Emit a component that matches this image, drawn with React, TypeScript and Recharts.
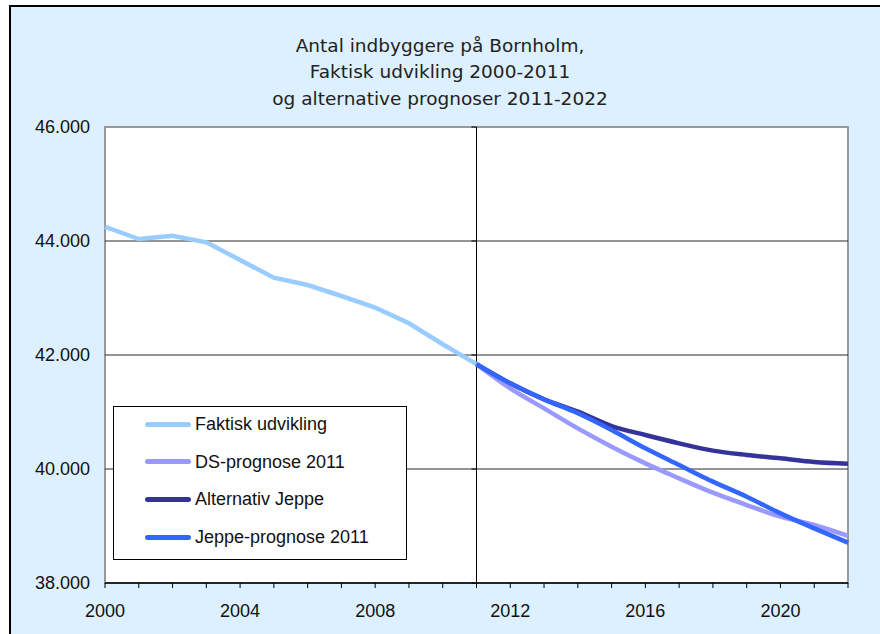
import React from 'react';
import {
  LineChart,
  Line,
  XAxis,
  YAxis,
  ReferenceLine,
  ReferenceArea,
  Legend
} from 'recharts';

// Year categories
const years = [
  2000, 2001, 2002, 2003, 2004, 2005, 2006, 2007, 2008, 2009, 2010, 2011,
  2012, 2013, 2014, 2015, 2016, 2017, 2018, 2019, 2020, 2021, 2022
];
const yTicks = [38000, 40000, 42000, 44000, 46000];

// Actual population 2000-2011
const faktisk = [44250, 44035, 44093, 43977, 43666, 43356, 43228, 43035, 42830, 42556, 42188, 41840];
// Forecasts 2011-2022
const dsPrognose = [41840, 41415, 41064, 40713, 40392, 40099, 39836, 39585, 39368, 39164, 39018, 38825];
const altJeppe = [41840, 41503, 41222, 41006, 40754, 40596, 40450, 40322, 40246, 40187, 40123, 40093];
const jeppePrognose = [41840, 41503, 41222, 40977, 40684, 40363, 40070, 39778, 39514, 39222, 38959, 38707];

const titleLines = [
  'Antal indbyggere på Bornholm,',
  'Faktisk udvikling 2000-2011',
  'og alternative prognoser 2011-2022'
];

const series = [
  { key: 'faktisk', name: 'Faktisk udvikling', color: '#99CCFF' },
  { key: 'ds', name: 'DS-prognose 2011', color: '#9999FF' },
  { key: 'alt', name: 'Alternativ Jeppe', color: '#333399' },
  { key: 'jeppe', name: 'Jeppe-prognose 2011', color: '#3366FF' }
];

const FORECAST_START = 11;

const data = years.map((year, i) => ({
  year,
  faktisk: i <= FORECAST_START ? faktisk[i] : null,
  ds: i >= FORECAST_START ? dsPrognose[i - FORECAST_START] : null,
  alt: i >= FORECAST_START ? altJeppe[i - FORECAST_START] : null,
  jeppe: i >= FORECAST_START ? jeppePrognose[i - FORECAST_START] : null
}));

const fmtThousands = (v: number) =>
  `${Math.floor(v / 1000)}.${String(v % 1000).padStart(3, '0')}`;

const axisFont = { fontFamily: '"Liberation Sans", Arial, sans-serif', fontSize: 18, fill: '#111' };

const LegendBox = () => (
  <div
    style={{
      width: 294,
      height: 154,
      boxSizing: 'border-box',
      background: '#fff',
      border: '1px solid #000',
      position: 'relative',
      fontFamily: '"Liberation Sans", Arial, sans-serif',
      fontSize: 18,
      color: '#111'
    }}
  >
    {series.map((s, i) => (
      <div
        key={s.key}
        style={{ position: 'absolute', left: 31, top: 6 + i * 37.7, height: 22, display: 'flex', alignItems: 'center' }}
      >
        <div style={{ width: 46, height: 5, borderRadius: 3, background: s.color }} />
        <span style={{ marginLeft: 4, lineHeight: '22px', whiteSpace: 'nowrap' }}>{s.name}</span>
      </div>
    ))}
  </div>
);

const App: React.FC = () => {
  return (
    <div style={{ position: 'absolute', left: 0, top: 0, width: 880, height: 634, overflow: 'hidden', background: '#fff' }}>
      <div
        style={{
          position: 'absolute',
          left: 9,
          top: 5,
          width: 900,
          height: 700,
          borderLeft: '2px solid #000',
          borderTop: '2px solid #000',
          background: '#DCF0FF'
        }}
      />
      <div
        style={{
          position: 'absolute',
          left: 0,
          width: 880,
          top: 32.5,
          textAlign: 'center',
          fontFamily: '"DejaVu Sans", Verdana, sans-serif',
          fontSize: 18.5,
          lineHeight: '26.8px',
          color: '#222'
        }}
      >
        {titleLines.map((t) => (
          <div key={t}>{t}</div>
        ))}
      </div>
      <div style={{ position: 'absolute', left: 0, top: 0 }}>
        <LineChart width={880} height={634} data={data} margin={{ top: 127, right: 32, bottom: 21, left: 25 }}>
          <ReferenceArea
            x1={2000}
            x2={2022}
            y1={38000}
            y2={46000}
            fill="#fff"
            fillOpacity={1}
            stroke="#999"
            strokeWidth={2}
          />
          {[40000, 42000, 44000].map((v) => (
            <ReferenceLine key={v} y={v} stroke="#2a2a2a" strokeWidth={1} />
          ))}
          <ReferenceLine x={2011} stroke="#000" strokeWidth={1} />
          {yTicks.map((v) => (
            <ReferenceLine
              key={`yt-${v}`}
              segment={[{ x: 2010.85, y: v }, { x: 2011, y: v }]}
              stroke="#000"
              strokeWidth={1}
            />
          ))}
          <XAxis
            dataKey="year"
            type="number"
            domain={[2000, 2022]}
            ticks={years}
            interval={0}
            height={30}
            stroke="#000"
            axisLine={{ stroke: '#000', strokeWidth: 1.5 }}
            tickLine={{ stroke: '#000' }}
            tickSize={5}
            tickMargin={16}
            tick={axisFont}
            tickFormatter={(v: number) => ((v - 2000) % 4 === 0 ? String(v) : '')}
          />
          <YAxis
            type="number"
            domain={[38000, 46000]}
            ticks={yTicks}
            interval={0}
            width={80}
            axisLine={false}
            tickLine={false}
            tickSize={6}
            tickMargin={9}
            tick={axisFont}
            tickFormatter={fmtThousands}
          />
          <Legend
            layout="horizontal"
            verticalAlign="middle"
            align="center"
            wrapperStyle={{ position: 'absolute', left: 113, top: 406, width: 294, height: 154 }}
            content={() => <LegendBox />}
          />
          <Line
            dataKey="faktisk"
            name="Faktisk udvikling"
            type="linear"
            stroke="#99CCFF"
            strokeWidth={4.5}
            dot={false}
            isAnimationActive={false}
          />
          <Line
            dataKey="ds"
            name="DS-prognose 2011"
            type="monotone"
            stroke="#9999FF"
            strokeWidth={4.5}
            dot={false}
            isAnimationActive={false}
          />
          <Line
            dataKey="alt"
            name="Alternativ Jeppe"
            type="monotone"
            stroke="#333399"
            strokeWidth={4.5}
            dot={false}
            isAnimationActive={false}
          />
          <Line
            dataKey="jeppe"
            name="Jeppe-prognose 2011"
            type="monotone"
            stroke="#3366FF"
            strokeWidth={4.5}
            dot={false}
            isAnimationActive={false}
          />
        </LineChart>
      </div>
    </div>
  );
};

export default App;
